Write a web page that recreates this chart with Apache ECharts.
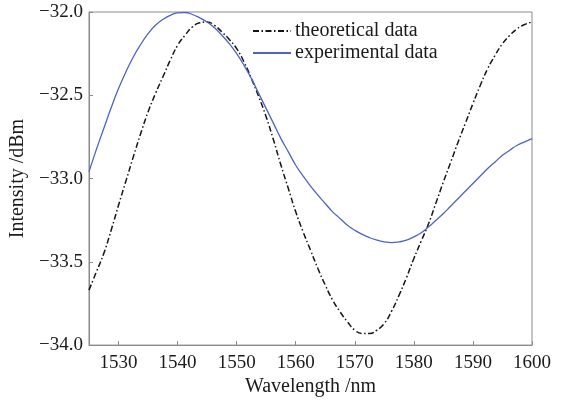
<!DOCTYPE html>
<html>
<head>
<meta charset="utf-8">
<script src="https://cdn.jsdelivr.net/npm/echarts@6/dist/echarts.min.js"></script>
<style>html,body{margin:0;padding:0;background:#fff;}#c{width:562px;height:402px;}</style>
</head>
<body>
<div id="c"></div>
<script>
const wavelengths = [1525,1526.25,1527.5,1528.75,1530,1531.25,1532.5,1533.75,1535,1536.25,1537.5,1538.75,1540,1541.25,1542.5,1543.75,1545,1546.25,1547.5,1548.75,1550,1551.25,1552.5,1553.75,1555,1556.25,1557.5,1558.75,1560,1561.25,1562.5,1563.75,1565,1566.25,1567.5,1568.75,1570,1571.25,1572.5,1573.75,1575,1576.25,1577.5,1578.75,1580,1581.25,1582.5,1583.75,1585,1586.25,1587.5,1588.75,1590,1591.25,1592.5,1593.75,1595,1596.25,1597.5,1598.75,1600];
const theoretical = [-33.67,-33.56,-33.45,-33.31,-33.16,-33.015,-32.87,-32.73,-32.60,-32.49,-32.39,-32.29,-32.20,-32.14,-32.09,-32.065,-32.06,-32.08,-32.12,-32.165,-32.22,-32.30,-32.40,-32.51,-32.63,-32.77,-32.92,-33.06,-33.20,-33.32,-33.43,-33.54,-33.64,-33.73,-33.80,-33.86,-33.91,-33.93,-33.93,-33.91,-33.87,-33.795,-33.70,-33.595,-33.48,-33.375,-33.27,-33.145,-33.02,-32.90,-32.78,-32.665,-32.55,-32.44,-32.34,-32.26,-32.19,-32.14,-32.10,-32.075,-32.06];
const experimental = [-32.96,-32.825,-32.70,-32.575,-32.46,-32.36,-32.27,-32.195,-32.13,-32.08,-32.045,-32.02,-32.005,-32.003,-32.015,-32.035,-32.06,-32.095,-32.14,-32.19,-32.25,-32.32,-32.40,-32.49,-32.58,-32.67,-32.76,-32.84,-32.92,-32.985,-33.045,-33.10,-33.15,-33.20,-33.24,-33.28,-33.31,-33.335,-33.355,-33.37,-33.38,-33.385,-33.38,-33.37,-33.35,-33.325,-33.29,-33.25,-33.21,-33.165,-33.12,-33.075,-33.03,-32.985,-32.94,-32.90,-32.86,-32.83,-32.80,-32.78,-32.76];
const seriesNames = ['theoretical data','experimental data'];
const xTicks = [1530,1540,1550,1560,1570,1580,1590,1600];
const xName = 'Wavelength /nm';
const yName = 'Intensity /dBm';

const font = 'Liberation Serif';
const chart = echarts.init(document.getElementById('c'), null, {renderer:'canvas'});
const pair = arr => wavelengths.map((w,i)=>[w, arr[i]]);
chart.setOption({
  animation:false,
  backgroundColor:'#fff',
  textStyle:{fontFamily:font},
  grid:{left:89,right:30,top:12,bottom:51,show:true,borderColor:'#8a8a8a',borderWidth:1,backgroundColor:'transparent'},
  legend:{
    orient:'vertical', left:247, top:16, itemWidth:38, itemHeight:12, itemGap:2,
    itemStyle:{opacity:0},
    textStyle:{fontFamily:font,fontSize:20,color:'#1a1a1a',padding:[0,0,0,-1]},
    data:seriesNames
  },
  xAxis:{
    type:'value', min:1525, max:1600,
    name:xName, nameLocation:'middle', nameGap:27,
    nameTextStyle:{fontFamily:font,fontSize:20,color:'#1a1a1a'},
    axisLine:{show:true,lineStyle:{color:'#8a8a8a'}},
    axisTick:{show:true,inside:true,length:4,lineStyle:{color:'#8a8a8a'},customValues:xTicks},
    axisLabel:{fontFamily:font,fontSize:19,color:'#1a1a1a',margin:8,customValues:xTicks,
      formatter:v=> String(v)},
    splitLine:{show:false}
  },
  yAxis:{
    type:'value', min:-34, max:-32, interval:0.5,
    name:yName, nameLocation:'middle', nameGap:58,
    nameTextStyle:{fontFamily:font,fontSize:20,color:'#1a1a1a'},
    axisLine:{show:true,lineStyle:{color:'#8a8a8a'}},
    axisTick:{show:true,inside:true,length:4,lineStyle:{color:'#8a8a8a'}},
    axisLabel:{fontFamily:font,fontSize:19,color:'#1a1a1a',margin:6,
      formatter:v=> (v<0?'\u2212':'') + Math.abs(v).toFixed(1)},
    splitLine:{show:false}
  },
  series:[
    {name:seriesNames[0], type:'line', data:pair(theoretical), smooth:true, symbol:'none',
     lineStyle:{color:'#151515',width:1.5,type:[6,2.5,1.5,2.5]}, itemStyle:{color:'#151515'}},
    {name:seriesNames[1], type:'line', data:pair(experimental), smooth:true, symbol:'none',
     lineStyle:{color:'#4f63c4',width:1.3}, itemStyle:{color:'#4f63c4'}}
  ]
});
</script>
</body>
</html>
